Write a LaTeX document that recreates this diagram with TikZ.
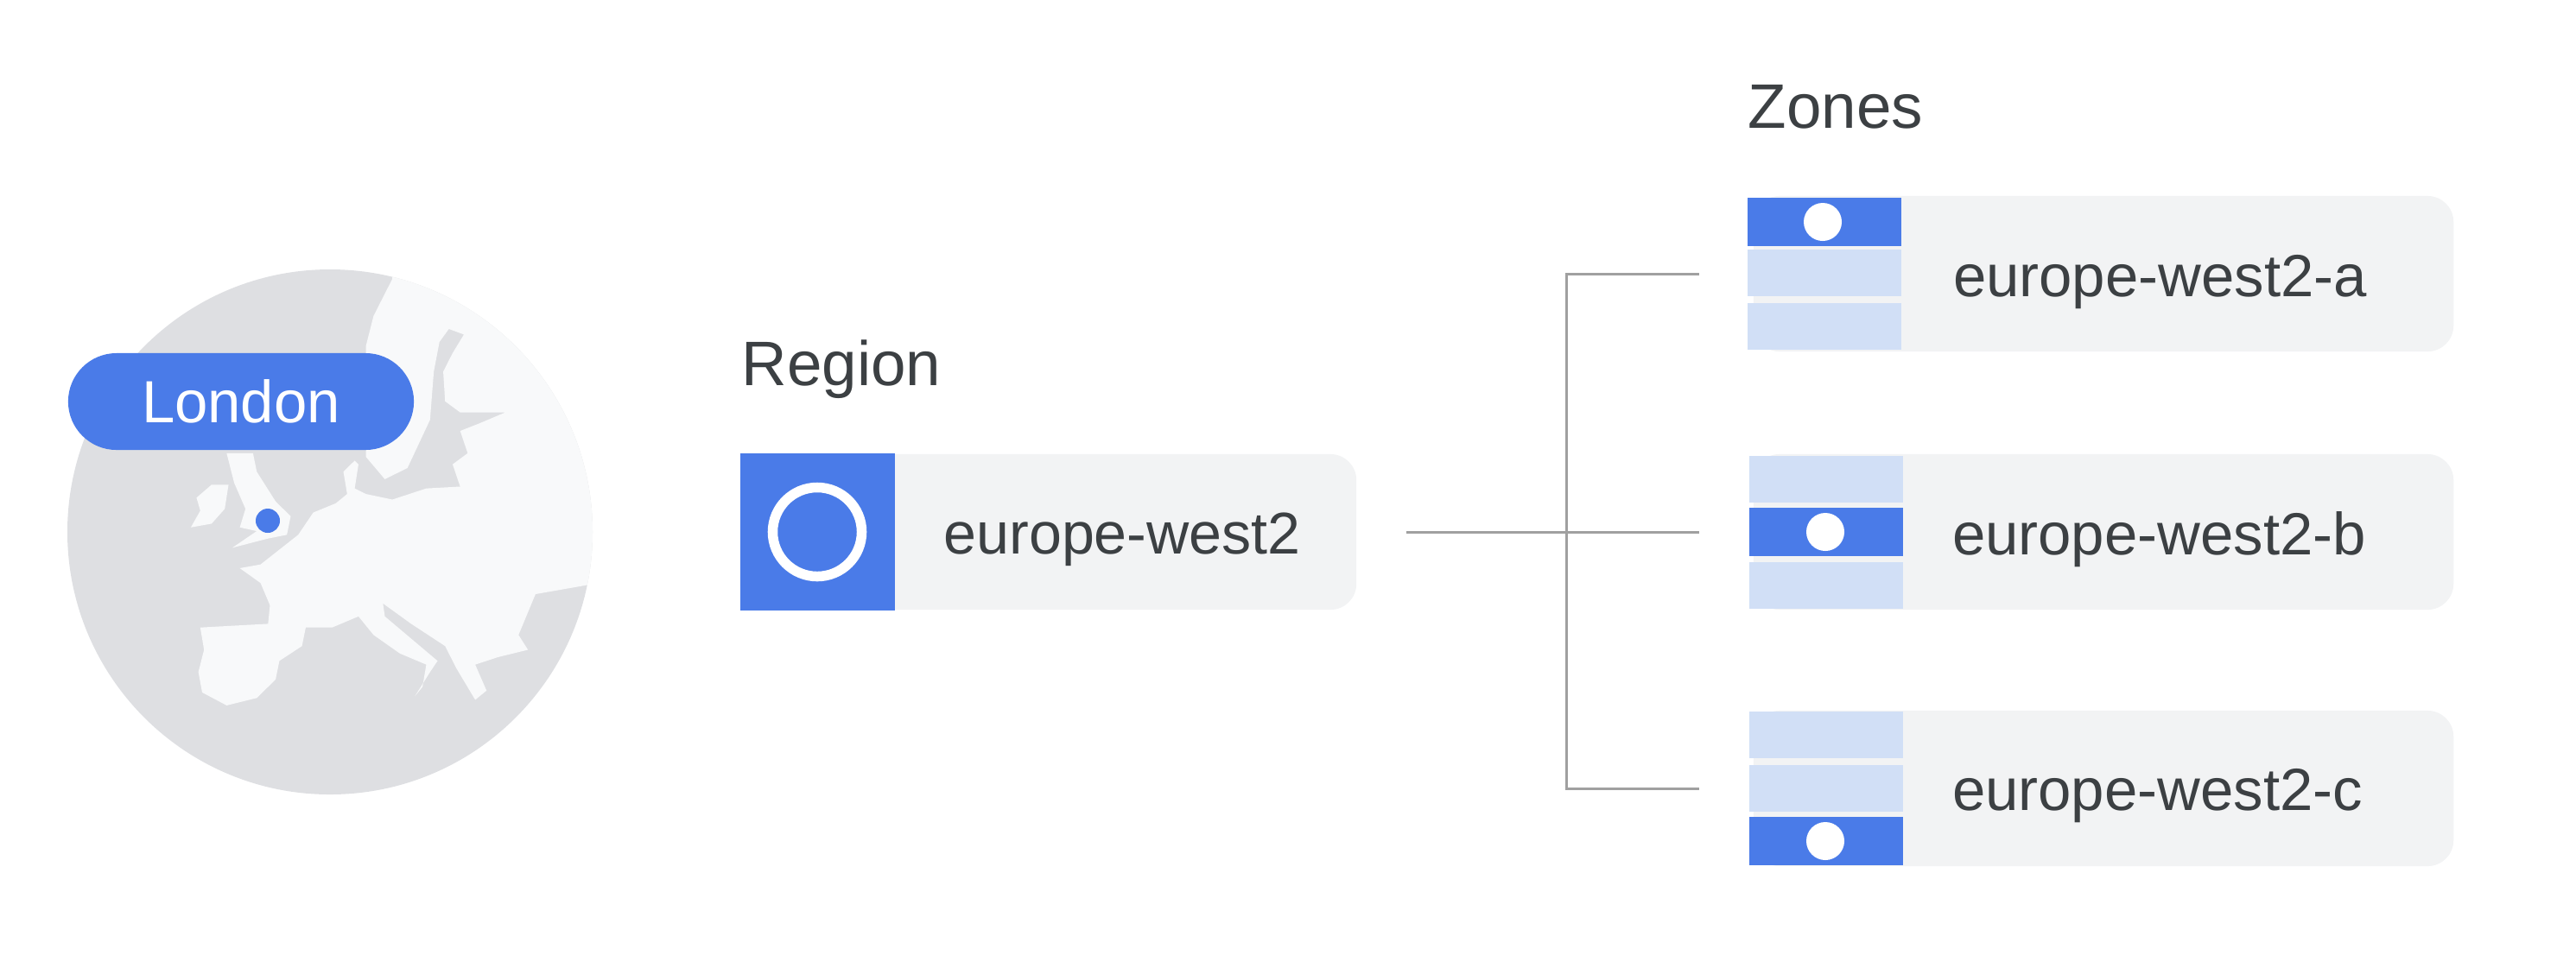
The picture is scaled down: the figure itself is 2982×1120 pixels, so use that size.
\documentclass[tikz,border=0pt]{standalone}
\usepackage{fontspec}
\setmainfont{Liberation Sans}
\usetikzlibrary{positioning, calc}

\definecolor{gblue}{HTML}{4A7BE8}
\definecolor{gpale}{HTML}{D1DFF6}
\definecolor{gpanel}{HTML}{F2F3F4}
\definecolor{gglobe}{HTML}{DEDFE2}
\definecolor{gland}{HTML}{F8F9FA}
\definecolor{gtext}{HTML}{3C4043}
\definecolor{gline}{HTML}{A0A0A0}

\tikzset{
    panel/.style={fill=gpanel, rounded corners=0.3cm, minimum height=1.8cm, inner sep=0pt},
    title/.style={font=\fontsize{20.7pt}{24pt}\selectfont, text=gtext, inner sep=0pt, anchor=base west},
    boxlabel/.style={font=\fontsize{19.6pt}{23pt}\selectfont, text=gtext, inner sep=0pt, yshift=-0.09cm},
    slotblue/.style={fill=gblue, minimum width=1.77cm, minimum height=0.56cm, inner sep=0pt},
    slotpale/.style={fill=gpale, minimum width=1.77cm, minimum height=0.54cm, inner sep=0pt},
    slotdot/.style={circle, fill=white, minimum size=0.44cm, inner sep=0pt},
    link/.style={draw=gline, line width=0.03cm}
}

\begin{document}
\begin{tikzpicture}[x=0.01cm, y=-0.01cm]
    \useasboundingbox (0,0) rectangle (2982,1120);

    % globe
    \fill[gglobe] (382,616) circle (304);
    \begin{scope}
        \clip (382,616) circle (304);
        \begin{scope}[shift={(40,280)}, xscale=0.436, yscale=0.4295]
            % mainland
            \fill[gland] (950,100) -- (900,200) -- (880,280) -- (880,580) -- (930,640) -- (990,610) -- (1050,480) -- (1060,350) -- (1075,270) -- (1100,235) -- (1140,250) -- (1110,300) -- (1085,350) -- (1090,430) -- (1130,460) -- (1250,460) -- (1180,490) -- (1130,510) -- (1150,570) -- (1110,600) -- (1130,660) -- (1040,665) -- (950,695) -- (880,680) -- (850,665) -- (860,600) -- (850,590) -- (820,620) -- (830,680) -- (800,705) -- (740,730) -- (700,790) -- (650,830) -- (600,870) -- (545,880) -- (600,920) -- (625,980) -- (620,1030) -- (530,1035) -- (440,1040) -- (450,1100) -- (435,1160) -- (445,1215) -- (510,1250) -- (590,1230) -- (640,1180) -- (650,1130) -- (710,1090) -- (720,1040) -- (790,1040) -- (860,1010) -- (900,1060) -- (970,1110) -- (1040,1140) -- (1030,1200) -- (1010,1225) -- (1050,1160) -- (1070,1130) -- (1000,1070) -- (930,1010) -- (925,975) -- (1000,1030) -- (1090,1090) -- (1120,1150) -- (1170,1235) -- (1200,1210) -- (1170,1140) -- (1230,1120) -- (1310,1100) -- (1285,1060) -- (1330,950) -- (1470,925) -- (1600,925) -- (1600,0) -- (950,0) -- cycle;
            % britain and ireland
            \fill[gland] (510,570) -- (580,570) -- (590,620) -- (640,700) -- (680,740) -- (670,790) -- (620,800) -- (525,825) -- (590,780) -- (545,770) -- (560,720) -- (530,650) -- cycle;
            \fill[gland] (430,690) -- (470,655) -- (515,655) -- (505,720) -- (470,760) -- (415,770) -- (440,725) -- cycle;
        \end{scope}
    \end{scope}
    \node[fill=gblue, rounded corners=0.56cm, minimum width=4cm, minimum height=1.12cm, text=white, font=\fontsize{19.6pt}{23pt}\selectfont] (london) at (279,465) {London};
    \node[circle, fill=gblue, minimum size=0.28cm, inner sep=0pt] (londondot) at (310,603) {};

    % region
    \node[title] (regiontitle) at (858,446) {Region};
    \node[panel, minimum width=7.13cm] (regionbox) at (1213.5,616) {};
    \node[fill=gblue, minimum width=1.79cm, minimum height=1.82cm, inner sep=0pt] (regionicon) at (946.5,616) {};
    \node[circle, draw=white, line width=0.115cm, minimum size=1.03cm, inner sep=0pt] (regionring) at (946,616) {};
    \node[boxlabel, font=\fontsize{19.4pt}{23pt}\selectfont, right=0.55cm of regionicon] (regionname) {europe-west2};

    % zones
    \node[title] (zonestitle) at (2023,148) {Zones};

    \node[panel, minimum width=8.1cm] (zoneabox) at (2435,317) {};
    \node[slotblue] (zonea1) at (2112,257) {};
    \node[slotpale] (zonea2) at (2112,316) {};
    \node[slotpale] (zonea3) at (2112,378) {};
    \node[slotdot] (zoneadot) at (2110,257) {};
    \node[boxlabel, yshift=-0.02cm, right=0.59cm of zonea2] (zoneaname) {europe-west2-a};

    \node[panel, minimum width=8.1cm] (zonebbox) at (2435,616) {};
    \node[slotpale] (zoneb1) at (2114,555) {};
    \node[slotblue] (zoneb2) at (2114,616) {};
    \node[slotpale] (zoneb3) at (2114,678) {};
    \node[slotdot] (zonebdot) at (2113,616) {};
    \node[boxlabel, right=0.56cm of zoneb2] (zonebname) {europe-west2-b};

    \node[panel, minimum width=8.1cm] (zonecbox) at (2435,913) {};
    \node[slotpale] (zonec1) at (2114,851) {};
    \node[slotpale] (zonec2) at (2114,913) {};
    \node[slotblue] (zonec3) at (2114,974) {};
    \node[slotdot] (zonecdot) at (2113,974) {};
    \node[boxlabel, right=0.56cm of zonec2] (zonecname) {europe-west2-c};

    % connectors
    \coordinate (hub) at (1813,616);
    \draw[link, shorten <=0.57cm, shorten >=0.62cm] (regionbox.east) -- (zonebbox.west);
    \draw[link, shorten <=0.62cm, shorten >=0.62cm] (zoneabox.west) -- (zoneabox.west -| hub) -- (zonecbox.west -| hub) -- (zonecbox.west);
\end{tikzpicture}
\end{document}
